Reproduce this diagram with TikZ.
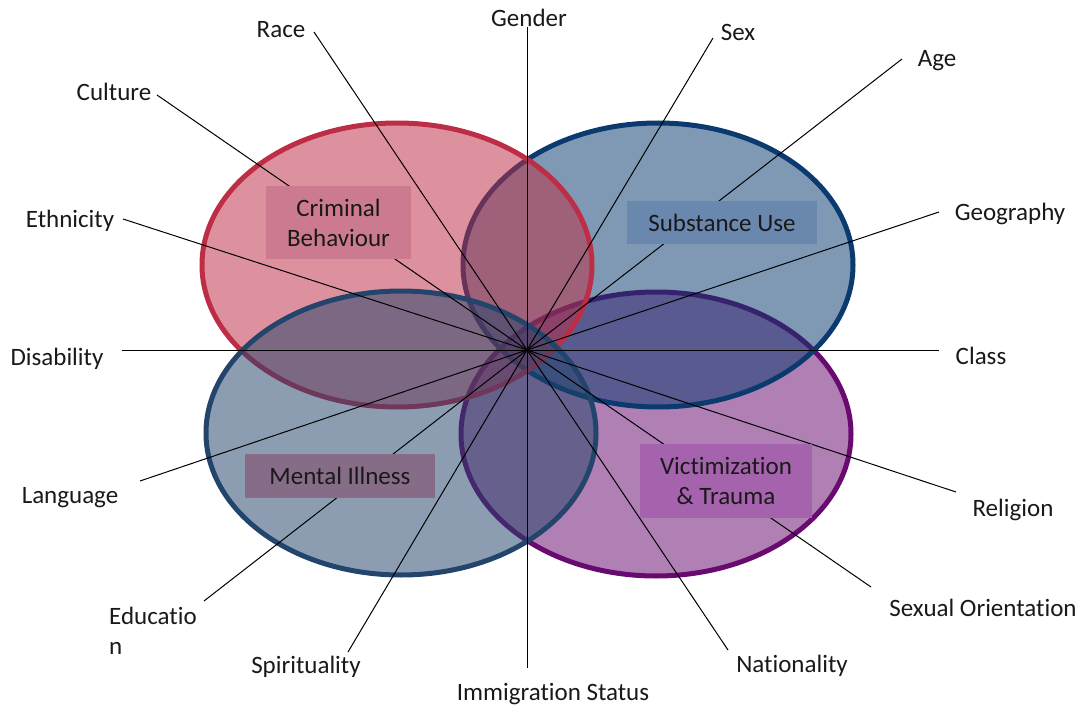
\documentclass[tikz,border=0pt]{standalone}
\usepackage{fontspec}
\setmainfont{Carlito}[Ligatures={NoCommon,NoRequired,NoContextual}]

\definecolor{crimered}{RGB}{190,45,70}
\definecolor{substblue}{RGB}{10,58,110}
\definecolor{mentalslate}{RGB}{35,68,107}
\definecolor{traumapurple}{RGB}{104,10,112}
\definecolor{crimebox}{RGB}{204,122,144}
\definecolor{substbox}{RGB}{106,136,174}
\definecolor{mentalbox}{RGB}{135,108,135}
\definecolor{traumabox}{RGB}{164,99,172}

\tikzset{
  sphere/.style={line width=5pt, fill opacity=0.52},
  spoke/.style={black, line width=1pt},
  factor/.style={anchor=base, inner sep=0pt, text=black!90},
  issue/.style={inner sep=0pt, align=center, text=black!90},
}

\begin{document}
\begin{tikzpicture}[x=1pt, y=-1pt, font=\fontsize{25}{30}\selectfont]
  \useasboundingbox (0,0) rectangle (1088,706);

  % Four overlapping problem areas
  \draw[sphere, draw=traumapurple, fill=traumapurple] (656,434) ellipse [x radius=195pt, y radius=142pt];
  \draw[sphere, draw=substblue, fill=substblue] (658,265) ellipse [x radius=195pt, y radius=142pt];
  \draw[sphere, draw=crimered, fill=crimered] (397,265) ellipse [x radius=195pt, y radius=142pt];
  \draw[sphere, draw=mentalslate, fill=mentalslate] (401,433) ellipse [x radius=195pt, y radius=142pt];

  % Hub where all factors cross
  \coordinate (hub) at (527,350);

  % Factors round the diagram (name/label x/baseline/line end)
  \foreach \name/\lx/\ly/\ex/\ey/\txt in {
      gender/529/27/527/27/Gender,
      race/281/38/314/32/Race,
      sex/738/41/713/38/Sex,
      age/937/67/902/59/Age,
      culture/114/101/157/95/Culture,
      geography/1010/221/939/212/Geography,
      ethnicity/70/227/123/219/Ethnicity,
      disability/57/365/122/350/Disability,
      class/981/364/939/350/Class,
      language/70/503/140/481/Language,
      religion/1013/516/956/492/Religion,
      spirituality/306/673/348/652/Spirituality,
      immigration/553/700/527/668/Immigration Status,
      nationality/792/672/728/650/Nationality,
      orientation/983/616/871/587/Sexual Orientation} {
    \node[factor] (\name) at (\lx,\ly) {\txt};
    \coordinate (\name-end) at (\ex,\ey);
    \draw[spoke] (hub) -- (\name-end);
  }

  % Education wraps onto a second line
  \node[factor, align=left, anchor=north west] (education) at (109,607) {Educatio\\n};
  \coordinate (education-end) at (204,601);
  \draw[spoke] (hub) -- (education-end);

  % Labels of the four areas
  \node[issue, fill=crimebox, minimum width=145pt, minimum height=73pt] (crime) at (338.5,222.5) {Criminal\\Behaviour};
  \node[issue, fill=substbox, minimum width=190pt, minimum height=43pt] (subst) at (722,222.5) {Substance Use};
  \node[issue, fill=mentalbox, minimum width=190pt, minimum height=44pt] (mental) at (340,476) {Mental Illness};
  \node[issue, fill=traumabox, minimum width=172pt, minimum height=74pt] (trauma) at (726,481) {Victimization\\\& Trauma};
\end{tikzpicture}
\end{document}
